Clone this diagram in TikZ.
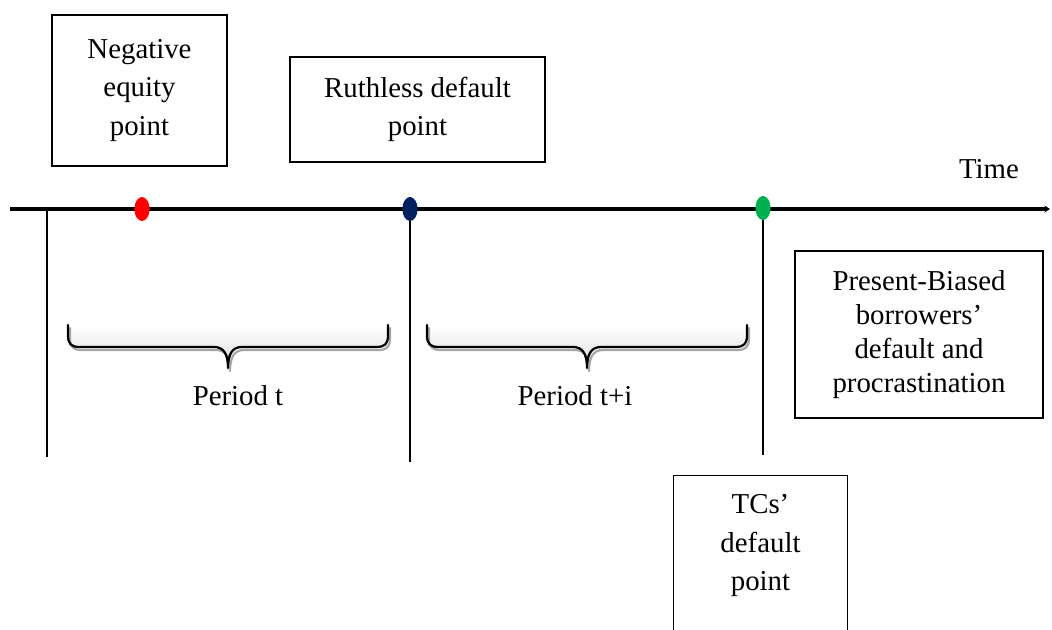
\documentclass[tikz,border=0pt]{standalone}
\usepackage{fontspec}
\setmainfont{Liberation Serif}
\usetikzlibrary{arrows.meta, shapes.geometric}

\tikzset{
    pics/period brace/.style = {
        code = {
            % soft fill and shadow first, then the brace itself
            \shade[top color = white, bottom color = black!14]
                (0,0) -- (0,10) .. controls (0,19) and (3,22) .. (12,22) -- (146,22)
                .. controls (155,22) and (160,28) .. (160,43)
                .. controls (160,28) and (165,22) .. (174,22) -- (308,22)
                .. controls (317,22) and (320,19) .. (320,10) -- (320,0) -- cycle;
            \draw[brace line, black!35, shift = {(2,3)}]
                (0,0) -- (0,10) .. controls (0,19) and (3,22) .. (12,22) -- (146,22)
                .. controls (155,22) and (160,28) .. (160,43)
                .. controls (160,28) and (165,22) .. (174,22) -- (308,22)
                .. controls (317,22) and (320,19) .. (320,10) -- (320,0);
            \draw[brace line]
                (0,0) -- (0,10) .. controls (0,19) and (3,22) .. (12,22) -- (146,22)
                .. controls (155,22) and (160,28) .. (160,43)
                .. controls (160,28) and (165,22) .. (174,22) -- (308,22)
                .. controls (317,22) and (320,19) .. (320,10) -- (320,0);
        }
    }
}

\begin{document}
\begin{tikzpicture}[
        x = 0.025cm, y = -0.025cm, % one unit is one pixel of the layout
        > = {Stealth[length = 4pt, width = 5pt]}, % arrow head style
        font = \fontsize{20.5}{27.4}\selectfont,
        brace line/.style = {line width = 1.6pt, line join = round, line cap = round}
    ]

    \tikzstyle{label box}=[
        draw = black,
        line width = 0.9pt,
        align = center,
        inner sep = 2pt
    ]
    \tikzstyle{event dot}=[
        ellipse,
        inner sep = 0pt,
        minimum width = 0.38cm,
        minimum height = 0.6cm
    ]
    \tikzstyle{time line}=[line width = 2.2pt]
    \tikzstyle{tick line}=[line width = 1.4pt]

    \clip (0,0) rectangle (1052,630);

    % boxes above and below the line
    \node[label box, minimum width = 4.375cm, minimum height = 3.775cm] (negative) at (139.5,90.5) {Negative\\equity\\point};
    \node[label box, minimum width = 6.375cm, minimum height = 2.625cm] (ruthless) at (417.5,109.5) {Ruthless default\\point};
    \node[label box, minimum width = 6.2cm, minimum height = 4.175cm, font = \fontsize{20.5}{24.2}\selectfont] (biased) at (919,334.5) {Present-Biased\\borrowers’\\default and\\procrastination};
    \node[align = center, inner sep = 2pt, minimum width = 4.325cm, minimum height = 3.475cm] (tcs) at (760.5,545.5) {TCs’\\default\\point};
    \draw[line width = 0.9pt] ([yshift = -1cm]tcs.south west) |- (tcs.north) -| ([yshift = -1cm]tcs.south east);

    \node (time) at (989,169) {Time};

    % the time line
    \coordinate (line start) at (10,209);
    \coordinate (line end) at (1050,209);
    \draw[time line, ->] (line start) -- (line end);

    \coordinate (origin) at (47,209);
    \coordinate (origin foot) at (47,457);
    \coordinate (ruthless foot) at (410,462);
    \coordinate (tcs foot) at (763,455);

    \node[event dot, fill = {rgb,255:red,255;green,0;blue,0}] (negative dot) at (142,209) {};
    \node[event dot, fill = {rgb,255:red,0;green,32;blue,96}] (ruthless dot) at (410,209) {};
    \node[event dot, fill = {rgb,255:red,0;green,176;blue,80}] (tcs dot) at (763,208) {};

    \draw[tick line] (origin) -- (origin foot);
    \draw[tick line] (ruthless dot) -- (ruthless foot);
    \draw[tick line] (tcs dot) -- (tcs foot);

    % periods
    \pic at (68,325) {period brace};
    \pic at (427,325) {period brace};
    \node (period t) at (238,396) {Period t};
    \node (period ti) at (575,396) {Period t+i};
\end{tikzpicture}
\end{document}
